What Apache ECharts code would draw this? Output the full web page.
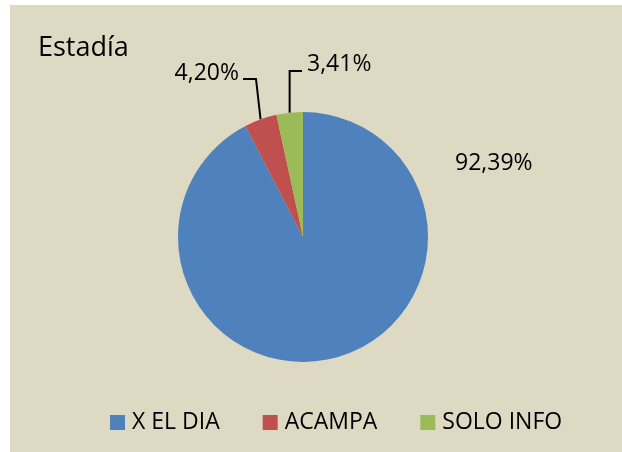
<!DOCTYPE html>
<html>
<head>
<meta charset="utf-8">
<script src="https://cdn.jsdelivr.net/npm/echarts@6/dist/echarts.min.js"></script>
<style>
html,body{margin:0;padding:0;background:#fff;}
#chart{width:622px;height:452px;}
</style>
</head>
<body>
<div id="chart"></div>
<script>
var titleText = 'Estadía';
var categories = ['X EL DIA', 'ACAMPA', 'SOLO INFO'];
var values = [92.39, 4.20, 3.41];
var colors = ['#4F81BD', '#C0504D', '#9BBB59'];

var FONT = '"Open Sans", sans-serif';
var chart = echarts.init(document.getElementById('chart'), null, {renderer: 'canvas'});

function fmt(v) { return v.toFixed(2).replace('.', ',') + '%'; }

var option = {
  backgroundColor: '#ffffff',
  animation: false,
  graphic: [{
    type: 'rect', z: -10, silent: true,
    shape: {x: 10, y: 5, width: 612, height: 447},
    style: {fill: '#DDD9C3'}
  }],
  title: {
    text: titleText, left: 33, top: 30,
    textStyle: {fontFamily: FONT, fontSize: 27, fontWeight: 'normal', color: '#000'}
  },
  legend: {
    data: categories,
    left: 105, top: 406,
    itemWidth: 15, itemHeight: 15, itemGap: 43,
    icon: 'rect',
    textStyle: {fontFamily: FONT, fontSize: 23, color: '#000', padding: [0, 0, 0, 2]}
  },
  series: [{
    type: 'pie',
    center: [303, 237],
    radius: 125,
    startAngle: 90,
    clockwise: true,
    data: categories.map(function (c, i) {
      return {name: c, value: values[i], itemStyle: {color: colors[i]}};
    }),
    label: {
      show: true, position: 'outside', color: '#000',
      fontFamily: FONT, fontSize: 23,
      formatter: function (p) { return fmt(p.value); }
    },
    labelLine: {show: true, lineStyle: {color: '#000', width: 2}, length: 20, length2: 10},
    labelLayout: function (p) {
      var s = p.labelLinePoints ? p.labelLinePoints[0] : [0, 0];
      if (p.dataIndex === 0) {
        return {x: 455, y: 163, align: 'left', verticalAlign: 'middle', labelLinePoints: [s, s, s]};
      } else if (p.dataIndex === 1) {
        return {x: 239, y: 73, align: 'right', verticalAlign: 'middle',
          labelLinePoints: [s, [256, 79], [243, 79]]};
      } else {
        return {x: 307, y: 64, align: 'left', verticalAlign: 'middle',
          labelLinePoints: [s, [s[0], 71], [302, 71]]};
      }
    }
  }]
};
chart.setOption(option);
</script>
</body>
</html>
